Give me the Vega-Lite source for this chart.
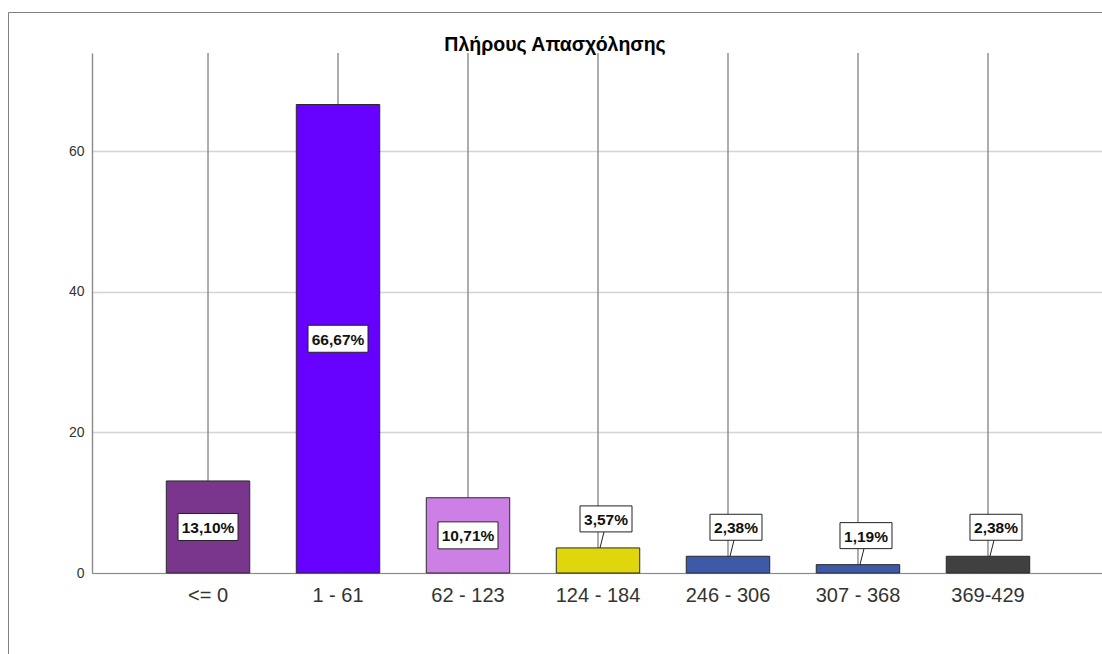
{
  "$schema": "https://vega.github.io/schema/vega-lite/v6.json",
  "width": 1094,
  "height": 642,
  "autosize": {"type": "none"},
  "padding": {"left": 8, "top": 12, "right": 0, "bottom": 0},
  "background": "white",
  "title": {"text": "Πλήρους Απασχόλησης", "anchor": "middle", "offset": -58, "baseline": "alphabetic", "font": "Liberation Sans", "fontSize": 19.5, "fontWeight": "bold", "color": "#000000"},
  "config": {"view": {"stroke": "#808080", "strokeWidth": 1}, "font": "Liberation Sans"},
  "data": {"values": [
    {"cat": "<= 0", "value": 13.10, "label": "13,10%"},
    {"cat": "1 - 61", "value": 66.67, "label": "66,67%"},
    {"cat": "62 - 123", "value": 10.71, "label": "10,71%"},
    {"cat": "124 - 184", "value": 3.57, "label": "3,57%"},
    {"cat": "246 - 306", "value": 2.38, "label": "2,38%"},
    {"cat": "307 - 368", "value": 1.19, "label": "1,19%"},
    {"cat": "369-429", "value": 2.38, "label": "2,38%"}
  ]},
  "encoding": {
    "x": {"field": "cat", "type": "nominal", "sort": null,
      "scale": {"range": [84, 1096], "paddingInner": 0.358, "paddingOuter": 0.5715},
      "axis": {"title": null, "orient": "bottom", "offset": -81, "ticks": false, "tickSize": 0, "domainColor": "#8a8a8a", "domainWidth": 1.2, "labelPadding": 28, "labelBaseline": "alphabetic", "labelFontSize": 20, "labelColor": "#333333", "labelAngle": 0, "labelFont": "Liberation Sans", "grid": false}}
  },
  "layer": [
    {
      "mark": {"type": "rule", "color": "#8a8a8a", "strokeWidth": 1.4},
      "encoding": {
        "y": {"field": "value", "type": "quantitative", "scale": {"domain": [0, 74], "range": [561, 41], "nice": false, "zero": true},
          "axis": {"values": [0, 20, 40, 60], "title": null, "offset": -84, "domainColor": "#8a8a8a", "domainWidth": 1.4, "ticks": false, "tickSize": 0, "labelPadding": 8, "labelFontSize": 14, "labelColor": "#333333", "labelFont": "Liberation Sans", "grid": true, "gridColor": "#d4d4d4", "gridWidth": 1.5}},
        "y2": {"datum": 74}
      }
    },
    {
      "mark": {"type": "bar", "stroke": "#2a2a2a", "strokeWidth": 1},
      "encoding": {
        "y": {"field": "value", "type": "quantitative"},
        "color": {"field": "cat", "type": "nominal", "legend": null,
          "scale": {"domain": ["<= 0", "1 - 61", "62 - 123", "124 - 184", "246 - 306", "307 - 368", "369-429"],
            "range": ["#7A368C", "#6600FF", "#CC80E6", "#E0D60E", "#3D5AA9", "#3D5AA9", "#404040"]}}
      }
    },
    {
      "transform": [{"filter": "datum.value < 10"}],
      "mark": {"type": "rule", "color": "#222222", "strokeWidth": 1, "xOffset": 2, "x2Offset": 6, "y2Offset": -16},
      "encoding": {
        "y": {"field": "value", "type": "quantitative"},
        "y2": {"field": "value"},
        "x2": {"field": "cat"}
      }
    },
    {
      "transform": [{"filter": "datum.value >= 10"}, {"calculate": "datum.value / 2", "as": "mid"}],
      "mark": {"type": "point", "shape": "M-1,-0.45L1,-0.45L1,0.45L-1,0.45Z", "filled": true, "fill": "white", "stroke": "#222222", "strokeWidth": 1, "opacity": 1, "size": 3600},
      "encoding": {"y": {"field": "mid", "type": "quantitative"}}
    },
    {
      "transform": [{"filter": "datum.value >= 10"}, {"calculate": "datum.value / 2", "as": "mid"}],
      "mark": {"type": "text", "font": "Liberation Sans", "fontWeight": "bold", "fontSize": 15.5, "color": "#111111", "baseline": "middle", "align": "center", "dy": 1},
      "encoding": {"y": {"field": "mid", "type": "quantitative"}, "text": {"field": "label"}}
    },
    {
      "transform": [{"filter": "datum.value < 10"}],
      "mark": {"type": "point", "shape": "M-1,-0.5L1,-0.5L1,0.5L-1,0.5Z", "filled": true, "fill": "white", "stroke": "#222222", "strokeWidth": 1, "opacity": 1, "size": 2704, "xOffset": 8, "yOffset": -29},
      "encoding": {"y": {"field": "value", "type": "quantitative"}}
    },
    {
      "transform": [{"filter": "datum.value < 10"}],
      "mark": {"type": "text", "font": "Liberation Sans", "fontWeight": "bold", "fontSize": 15.5, "color": "#111111", "baseline": "middle", "align": "center", "dy": 1, "xOffset": 8, "yOffset": -29},
      "encoding": {"y": {"field": "value", "type": "quantitative"}, "text": {"field": "label"}}
    }
  ]
}
